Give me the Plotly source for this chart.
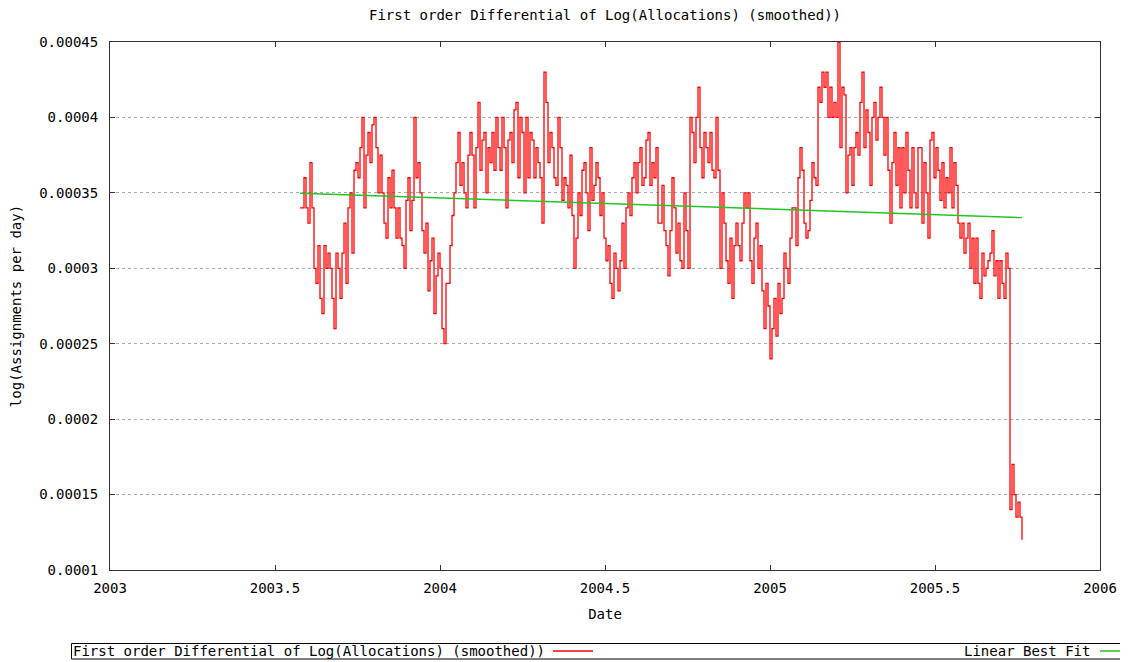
import numpy as np
import plotly.graph_objects as go

# ---- data (values in units of 1e-5) ----
seg1 = [34, 34, 36, 34, 33, 37, 34, 30, 29, 31.5, 28, 27, 31.5, 30, 31, 30, 28, 26, 31, 30,
        28, 31, 33, 29, 34, 35, 31, 36.5, 37, 36, 38, 40, 34, 37.5, 39, 37, 39.5, 40, 38, 35,
        37.5, 35, 33, 32, 36, 34, 36.5, 34, 32, 34, 32, 31.5, 30, 34.5, 36, 32.5, 34.5, 40, 36, 37]
seg2 = [35, 32.5, 31, 33, 28.5, 30.5, 32, 27, 29.5, 31, 30, 26, 25, 29, 29, 31.5, 33.5, 35, 37, 39,
        35.5, 37, 35, 34, 37.5, 39, 37.5, 34, 38, 41, 36.5, 38.5, 39, 35, 38, 37, 39, 36.5, 40, 38,
        36.5, 40, 38, 34, 38.5, 39, 37, 40.5, 41, 36, 40, 39, 35, 40, 36, 39, 38.5, 36, 38, 37]
seg3 = [36, 33, 43, 41, 37, 39, 38, 36, 35.5, 40, 38, 34.5, 36, 35.5, 34, 37.5, 33.5, 30, 32, 35,
        33.5, 36.5, 37, 35, 32.5, 38, 34.5, 35.5, 37, 36, 33.5, 35, 32, 30.5, 31.5, 29, 28, 31, 30, 28.5,
        30.5, 33, 30, 34, 35, 33.5, 36, 37, 35, 37, 38, 35.5, 36, 38.5, 39, 35.5, 37, 36, 38, 33]
seg4 = [33, 35.5, 32.5, 31.5, 29.5, 32.5, 36, 34, 31, 33, 30.5, 30, 35, 32.5, 30, 40, 39, 37, 40, 42,
        38, 36, 39, 38, 37, 39, 36.5, 36, 40, 36.5, 30, 35, 33, 30.5, 29, 32, 28, 31.5, 33, 31.5,
        30.5, 33, 35, 34, 35, 30.5, 29, 32, 33, 30, 31.5, 28.5, 26, 29, 27.5, 24, 26, 28, 25.5, 29]
seg5 = [27, 28, 31, 30, 29, 32, 34, 34, 31.5, 36, 38, 36.5, 33, 32, 32.5, 34.5, 37, 36, 35.5, 42,
        41, 43, 42, 43, 40, 42, 40, 41, 40, 45, 38, 42, 41.5, 35, 37.5, 38, 35.5, 38, 39, 37.5,
        41, 43, 38, 40.5, 39, 35.5, 40, 41, 38.5, 40, 42, 40, 37.5, 40, 36.5, 33, 37, 39, 35.5, 38,
        34, 38, 35, 39, 36.5, 34, 38, 35, 34, 38, 38, 33, 37, 35, 32, 38.5, 39, 36, 38, 36.5,
        34.5, 37, 34, 36, 35, 38, 34, 37, 35.5, 33, 32, 33, 31, 32, 33, 30, 32, 29, 32, 29,
        28, 31, 29.5, 30, 30.5, 31, 32.5, 29.5, 30.5, 28, 30.5, 29, 28, 31, 30]
seg6 = [14, 17, 15, 13.5, 14.5, 13.5, 12]

date_start = 2003.5758
date_end = 2005.7636

fit_dates = [2003.5758, 2005.7636]
fit_values = [0.0003498, 0.0003336]

y_ticks = [0.0001, 0.00015, 0.0002, 0.00025, 0.0003, 0.00035, 0.0004, 0.00045]
y_labels = ["0.0001", "0.00015", "0.0002", "0.00025", "0.0003", "0.00035", "0.0004", "0.00045"]
x_ticks = [2003, 2003.5, 2004, 2004.5, 2005, 2005.5, 2006]
x_labels = ["2003", "2003.5", "2004", "2004.5", "2005", "2005.5", "2006"]

title_text = "First order Differential of Log(Allocations) (smoothed))"
series_name = "First order Differential of Log(Allocations) (smoothed))"
fit_name = "Linear Best Fit"

values = np.array(seg1 + seg2 + seg3 + seg4 + seg5 + seg6) * 1e-5
dates = np.linspace(date_start, date_end, len(values))

FONT = "DejaVu Sans Mono"
# the page body has an 8px margin, so the figure is placed at (8, 8)
OFF = 8
W, H = 1128 - OFF, 662 - OFF
# reference plot area: x 110..1100, y 42..570 (page pixels)
L, R, T, B = 110 - OFF, 1128 - 1100, 42 - OFF, 662 - 570
PW, PH = 990, 528


def px(x):
    return (x - 110) / PW


def py(y):
    return (570 - y) / PH


fig = go.Figure()
fig.add_trace(go.Scatter(x=dates, y=values, mode="lines", name=series_name,
                         line=dict(color="#ff0000", width=1.3, shape="hv"),
                         showlegend=False))
fig.add_trace(go.Scatter(x=fit_dates, y=fit_values, mode="lines", name=fit_name,
                         line=dict(color="#22c522", width=1.5),
                         showlegend=False))

axis_common = dict(showline=True, linecolor="#333333", linewidth=1, mirror="ticks",
                   ticks="inside", ticklen=5, tickcolor="#333333", zeroline=False,
                   automargin=False,
                   tickfont=dict(family=FONT, size=14, color="#000000"))

fig.update_xaxes(range=[2003, 2006], tickvals=x_ticks, ticktext=x_labels,
                 showgrid=False, ticklabelstandoff=5,
                 title=dict(text="Date", font=dict(family=FONT, size=14, color="#000"), standoff=14),
                 **axis_common)
fig.update_yaxes(range=[0.0001, 0.00045], tickvals=y_ticks, ticktext=y_labels,
                 showgrid=True, gridcolor="#a8a8a8", gridwidth=1, griddash="dot",
                 ticklabelstandoff=8,
                 title=dict(text="log(Assignments per day)", font=dict(family=FONT, size=14, color="#000"), standoff=17),
                 **axis_common)

# legend box drawn gnuplot-style along the bottom
ly = 651
shapes = [
    dict(type="rect", xref="paper", yref="paper", x0=px(71.5), x1=px(1132), y0=py(643.5), y1=py(659),
         line=dict(color="#000000", width=1), fillcolor="rgba(0,0,0,0)"),
    dict(type="line", xref="paper", yref="paper", x0=px(553), x1=px(593), y0=py(ly), y1=py(ly),
         line=dict(color="#ff0000", width=1.3)),
    dict(type="line", xref="paper", yref="paper", x0=px(1100), x1=px(1130), y0=py(ly), y1=py(ly),
         line=dict(color="#22c522", width=1.5)),
]
annotations = [
    dict(text=series_name, xref="paper", yref="paper", x=px(72), y=py(ly), xanchor="left",
         yanchor="middle", showarrow=False, borderpad=0,
         font=dict(family=FONT, size=14, color="#000")),
    dict(text=fit_name, xref="paper", yref="paper", x=px(1091), y=py(ly), xanchor="right",
         yanchor="middle", showarrow=False, borderpad=0,
         font=dict(family=FONT, size=14, color="#000")),
]

fig.update_layout(
    width=W, height=H,
    margin=dict(l=L, r=R, t=T, b=B, pad=0, autoexpand=False),
    paper_bgcolor="#ffffff", plot_bgcolor="#ffffff",
    title=dict(text=title_text, x=(605 - OFF) / W, xanchor="center",
               y=1 - (15 - OFF) / H, yanchor="middle", yref="container",
               font=dict(family=FONT, size=14, color="#000")),
    shapes=shapes, annotations=annotations,
    showlegend=False,
)

fig.write_html("out.html")
